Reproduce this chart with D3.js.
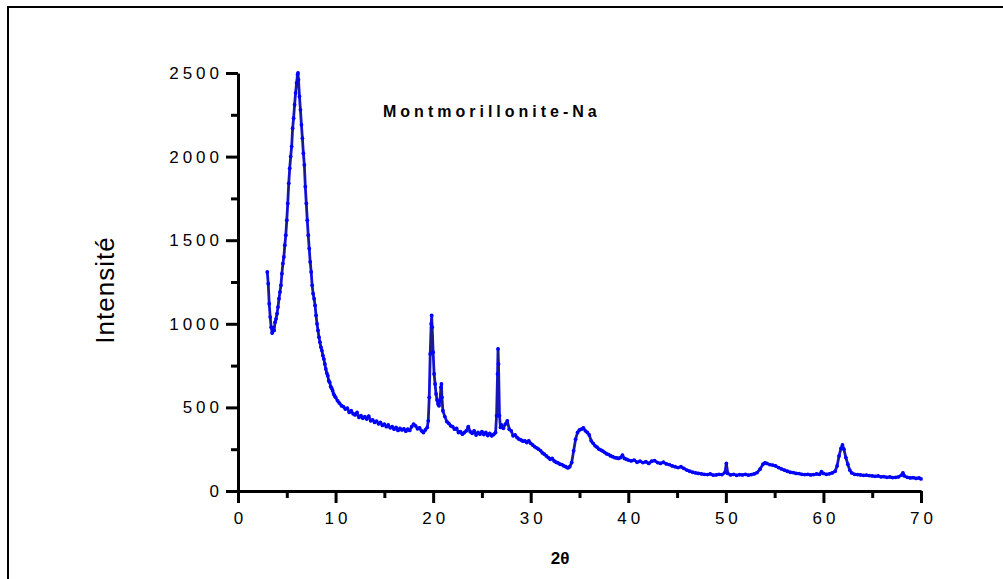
<!DOCTYPE html>
<html>
<head>
<meta charset="utf-8">
<script src="https://d3js.org/d3.v7.min.js"></script>
<style>
  body { margin: 0; background: #fff; }
  svg { display: block; }
  text { font-family: "Liberation Sans", Arial, sans-serif; }
</style>
</head>
<body>
<svg width="1003" height="579"></svg>
<script>
// 2theta positions (degrees)
const twoTheta = [
  3.0,3.1,3.2,3.3,3.4,3.5,3.6,3.7,3.8,3.9,4.0,4.1,4.2,4.3,4.4,4.5,4.6,4.7,4.8,4.9,
  5.0,5.1,5.2,5.3,5.4,5.5,5.6,5.7,5.8,5.9,6.0,6.1,6.15,6.2,6.3,6.4,6.5,6.6,6.7,6.8,6.9,
  7.0,7.1,7.2,7.3,7.4,7.5,7.6,7.7,7.8,7.9,8.0,8.1,8.2,8.3,8.4,8.5,8.6,8.7,8.8,8.9,
  9.0,9.1,9.2,9.3,9.4,9.5,9.6,9.7,9.8,9.9,10.0,10.2,10.4,10.6,10.8,11.0,11.2,11.4,11.6,11.8,
  12.0,12.2,12.4,12.6,12.8,13.0,13.2,13.4,13.6,13.8,14.0,14.2,14.4,14.6,14.8,15.0,15.2,15.4,15.6,15.8,
  16.0,16.2,16.4,16.6,16.8,17.0,17.2,17.4,17.6,17.8,18.0,18.2,18.4,18.6,18.8,19.0,19.2,19.4,19.5,19.6,
  19.7,19.8,19.85,19.9,20.0,20.1,20.2,20.3,20.4,20.5,20.6,20.7,20.8,20.85,20.9,21.0,21.2,21.4,21.6,21.8,
  22.0,22.2,22.4,22.6,22.8,23.0,23.2,23.4,23.6,23.8,24.0,24.2,24.4,24.6,24.8,25.0,25.2,25.4,25.6,25.8,
  26.0,26.2,26.4,26.5,26.6,26.65,26.7,26.8,26.9,27.0,27.2,27.4,27.6,27.8,28.0,28.2,28.4,28.6,28.8,
  29.0,29.2,29.4,29.6,29.8,30.0,30.2,30.4,30.6,30.8,31.0,31.2,31.4,31.6,31.8,32.0,32.2,32.4,32.6,32.8,
  33.0,33.2,33.4,33.6,33.8,34.0,34.2,34.4,34.6,34.8,35.0,35.2,35.4,35.6,35.8,36.0,36.2,36.4,36.6,36.8,
  37.0,37.2,37.4,37.6,37.8,38.0,38.2,38.4,38.6,38.8,39.0,39.2,39.4,39.6,39.8,40.0,40.3,40.6,40.9,
  41.2,41.5,41.8,42.1,42.4,42.7,43.0,43.3,43.6,43.9,44.2,44.5,44.8,45.1,45.4,45.7,46.0,46.3,46.6,46.9,
  47.2,47.5,47.8,48.1,48.4,48.7,49.0,49.3,49.6,49.9,50.05,50.2,50.5,50.8,51.1,51.4,51.7,52.0,52.3,52.6,
  52.9,53.2,53.5,53.8,54.0,54.2,54.5,54.8,55.1,55.4,55.7,56.0,56.3,56.6,56.9,57.2,57.5,57.8,58.1,58.4,
  58.7,59.0,59.3,59.6,59.8,60.0,60.3,60.6,60.9,61.2,61.4,61.6,61.8,61.95,62.1,62.3,62.5,62.7,62.9,
  63.2,63.5,63.8,64.1,64.4,64.7,65.0,65.3,65.6,65.9,66.2,66.5,66.8,67.1,67.4,67.7,68.0,68.15,68.3,68.6,
  68.9,69.2,69.5,69.8,70.0
];

// intensity (counts) at each 2theta
const intensity = [
  1310,1240,1120,1040,980,945,975,960,1010,1030,1060,1100,1150,1190,1230,1300,1360,1400,1470,1530,
  1620,1720,1840,1930,2000,2060,2170,2230,2310,2380,2440,2490,2500,2460,2360,2280,2190,2110,2020,1950,1820,
  1720,1620,1530,1450,1370,1310,1230,1180,1150,1110,1050,1000,960,920,890,860,840,810,790,760,
  730,705,690,660,650,625,615,600,580,570,560,540,525,510,505,490,495,470,480,462,
  455,470,440,450,435,445,430,448,420,425,410,418,402,410,392,400,385,395,378,385,
  370,380,362,375,365,372,358,370,362,385,400,390,372,378,360,350,365,380,420,560,
  820,1000,1050,980,830,700,640,580,545,520,510,540,620,640,560,480,445,415,405,390,
  385,370,375,350,355,340,350,360,385,355,345,360,335,350,340,355,338,350,332,345,
  330,338,350,450,700,850,760,450,380,395,375,400,420,370,360,330,335,320,310,
  305,298,300,290,300,285,275,265,258,250,242,228,220,210,200,190,195,180,172,168,
  160,158,150,145,138,145,170,240,310,350,365,370,378,360,350,335,300,285,270,262,
  250,245,238,230,222,218,210,205,200,198,195,200,215,195,190,185,180,185,172,
  178,170,175,165,178,182,170,165,172,162,158,150,145,140,145,135,125,118,112,108,
  105,102,100,98,102,95,96,100,98,110,165,105,96,100,94,98,96,100,95,98,
  102,110,130,160,168,165,158,155,150,140,132,125,118,112,110,105,104,100,98,100,
  96,98,102,100,115,105,100,103,108,118,150,210,255,275,250,200,160,125,108,
  100,98,96,94,95,92,90,88,90,85,86,82,84,80,82,85,95,108,90,82,
  78,80,75,78,72
];

// tick values
const xMajor = [0, 10, 20, 30, 40, 50, 60, 70];
const xMinor = [5, 15, 25, 35, 45, 55, 65];
const yMajor = [0, 500, 1000, 1500, 2000, 2500];
const yMinor = [250, 750, 1250, 1750, 2250];

const svg = d3.select('svg');
// plot box in pixels
const plotLeft = 238, plotRight = 921, plotTop = 73, plotBottom = 491;
const spacing = 4; // letter spacing of tick labels

// outer frame, runs off the right and bottom edges like the original
svg.append('rect')
  .attr('x', 8).attr('y', 7)
  .attr('width', 1020).attr('height', 600)
  .attr('fill', 'none')
  .attr('stroke', '#000')
  .attr('stroke-width', 2);

const xScale = d3.scaleLinear().domain([0, 70]).range([plotLeft, plotRight]);
const yScale = d3.scaleLinear().domain([0, 2500]).range([plotBottom, plotTop]);

// minor ticks first, then the major ones with labels
svg.append('g')
  .attr('transform', 'translate(0,' + plotBottom + ')')
  .call(d3.axisBottom(xScale).tickValues(xMinor).tickSize(7).tickSizeOuter(0).tickFormat(''))
  .call(g => g.select('.domain').remove());

svg.append('g')
  .attr('transform', 'translate(' + plotLeft + ',0)')
  .call(d3.axisLeft(yScale).tickValues(yMinor).tickSize(7).tickSizeOuter(0).tickFormat(''))
  .call(g => g.select('.domain').remove());

svg.append('g')
  .attr('class', 'x-axis')
  .attr('transform', 'translate(0,' + plotBottom + ')')
  .call(d3.axisBottom(xScale).tickValues(xMajor).tickSize(12).tickSizeOuter(0)
    .tickPadding(9).tickFormat(d3.format('d')))
  .selectAll('.tick text')
  .attr('dx', spacing / 2); // trailing letter spacing pushes text left, undo it

svg.append('g')
  .attr('class', 'y-axis')
  .attr('transform', 'translate(' + plotLeft + ',0)')
  .call(d3.axisLeft(yScale).tickValues(yMajor).tickSize(12).tickSizeOuter(0)
    .tickPadding(3).tickFormat(d3.format('d')));

svg.selectAll('.tick line').attr('stroke', '#000').attr('stroke-width', 3);
svg.selectAll('.domain').attr('stroke', '#000').attr('stroke-width', 3);
svg.selectAll('.tick text')
  .attr('fill', '#000')
  .style('font-family', '"Liberation Sans", Arial, sans-serif')
  .style('font-size', '17px')
  .style('letter-spacing', spacing + 'px');

// the pattern itself: thin dark trace under blue markers
const points = twoTheta.map((t, i) => [t, intensity[i]]);
const line = d3.line().x(d => xScale(d[0])).y(d => yScale(d[1]));

svg.append('path')
  .datum(points)
  .attr('d', line)
  .attr('fill', 'none')
  .attr('stroke', '#1414e6')
  .attr('stroke-width', 2.8)
  .attr('stroke-linejoin', 'round');

svg.append('path')
  .datum(points)
  .attr('d', line)
  .attr('fill', 'none')
  .attr('stroke', '#222')
  .attr('stroke-width', 0.6)
  .attr('stroke-linejoin', 'round');

svg.selectAll('circle.pt')
  .data(points)
  .enter()
  .append('circle')
  .attr('class', 'pt')
  .attr('cx', d => xScale(d[0]))
  .attr('cy', d => yScale(d[1]))
  .attr('r', 1.9)
  .attr('fill', '#0000ff');

// labels
svg.append('text')
  .attr('x', 383).attr('y', 117)
  .style('font-size', '16px')
  .style('font-weight', 'bold')
  .style('letter-spacing', '4px')
  .text('Montmorillonite-Na');

svg.append('text')
  .attr('transform', 'translate(114,290) rotate(-90)')
  .attr('text-anchor', 'middle')
  .style('font-size', '26px')
  .style('letter-spacing', '1px')
  .text('Intensité');

svg.append('text')
  .attr('x', 560).attr('y', 564)
  .attr('text-anchor', 'middle')
  .style('font-size', '17px')
  .style('font-weight', 'bold')
  .text('2θ');
</script>
</body>
</html>
